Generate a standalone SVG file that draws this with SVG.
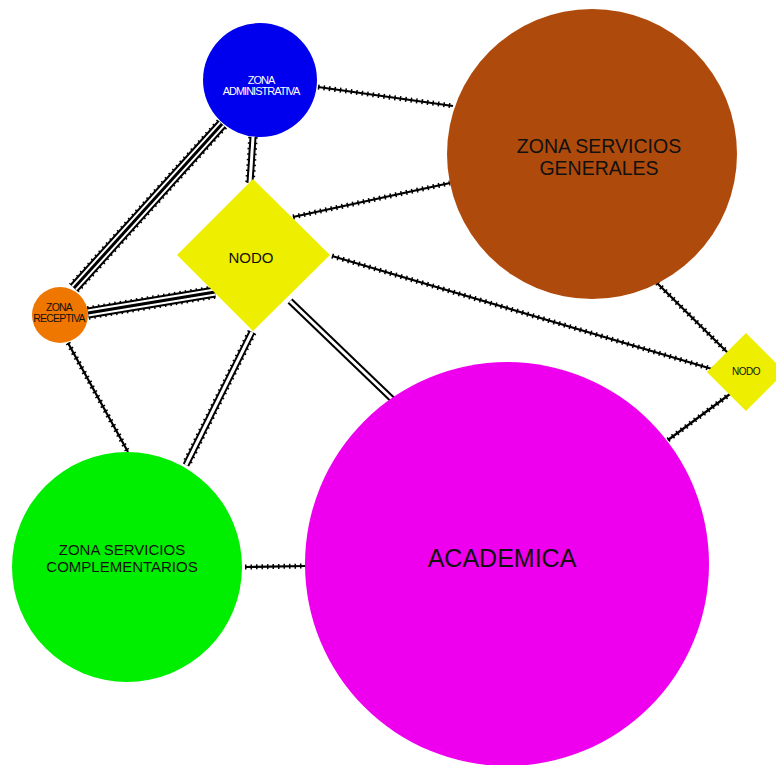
<svg xmlns="http://www.w3.org/2000/svg" width="776" height="765" viewBox="0 0 776 765">
<style>
.t{font-family:"Liberation Sans",Arial,sans-serif;text-anchor:middle;fill:#111}
.s1{stroke:#000;stroke-width:2.2;fill:none}
.s1b{stroke:#000;stroke-width:5;fill:none;stroke-dasharray:1.5 4}
.d1{stroke:#000;stroke-width:7;fill:none}
.d1b{stroke:#000;stroke-width:9.5;fill:none;stroke-dasharray:1.5 4}
.d2{stroke:#fff;stroke-width:3;fill:none}
.tr1{stroke:#000;stroke-width:11;fill:none}
.tr1b{stroke:#000;stroke-width:13.5;fill:none;stroke-dasharray:1.5 4}
.tr2{stroke:#fff;stroke-width:7;fill:none}
.tr3{stroke:#000;stroke-width:3;fill:none}
</style>
<rect width="776" height="765" fill="#fff"/>
<g id="connectors">
  <g>
    <path class="s1" d="M318,87 L453,106"/><path class="s1b" d="M318,87 L453,106"/>
    <path class="s1" d="M293,217 L450,183"/><path class="s1b" d="M293,217 L450,183"/>
    <path class="s1" d="M332,256 L712,369"/><path class="s1b" d="M332,256 L712,369"/>
    <path class="s1" d="M657,283 L728,353"/><path class="s1b" d="M657,283 L728,353"/>
    <path class="s1" d="M668,440 L730,394"/><path class="s1b" d="M668,440 L730,394"/>
    <path class="s1" d="M68,343 L128,452"/><path class="s1b" d="M68,343 L128,452"/>
    <path class="s1" d="M245,567 L306,566"/><path class="s1b" d="M245,567 L306,566"/>
  </g>
  <g>
    <path class="d1b" d="M253,137 L250,183"/><path class="d1" d="M253,137 L250,183"/><path class="d2" d="M253,137 L250,183"/>
    <path class="d1b" d="M252,332 L186,465"/><path class="d1" d="M252,332 L186,465"/><path class="d2" d="M252,332 L186,465"/>
    <path class="d1" d="M290,301 L393,400"/><path class="d2" d="M290,301 L393,400"/>
  </g>
  <g>
    <path class="tr1b" d="M222,124 L74,288"/><path class="tr1" d="M222,124 L74,288"/><path class="tr2" d="M222,124 L74,288"/><path class="tr3" d="M222,124 L74,288"/>
    <path class="tr1b" d="M88,313 L215,292"/><path class="tr1" d="M88,313 L215,292"/><path class="tr2" d="M88,313 L215,292"/><path class="tr3" d="M88,313 L215,292"/>
  </g>
</g>
<g id="zona-administrativa">
  <circle cx="260" cy="80" r="57" fill="#0000ee"/>
  <text class="t" x="261" y="84" font-size="11" style="fill:#fff" letter-spacing="-1">ZONA</text>
  <text class="t" x="261" y="95" font-size="11" style="fill:#fff" letter-spacing="-1">ADMINISTRATIVA</text>
</g>
<g id="zona-servicios-generales">
  <circle cx="592" cy="154" r="145" fill="#ae4a0c"/>
  <text class="t" x="599" y="153" font-size="19.5">ZONA SERVICIOS</text>
  <text class="t" x="599" y="175" font-size="19.5">GENERALES</text>
</g>
<g id="nodo">
  <polygon points="253,179 330,255 253,331 177,255" fill="#eeee00"/>
  <text class="t" x="251" y="263" font-size="15">NODO</text>
</g>
<g id="zona-receptiva">
  <circle cx="60" cy="315" r="28" fill="#ef7700"/>
  <text class="t" x="59" y="311" font-size="10.5" letter-spacing="-0.8">ZONA</text>
  <text class="t" x="59" y="322" font-size="10.5" letter-spacing="-0.8">RECEPTIVA</text>
</g>
<g id="nodo-2">
  <polygon points="746,333 785,372 746,411 707,372" fill="#eeee00"/>
  <text class="t" x="746" y="375" font-size="10" letter-spacing="-0.5">NODO</text>
</g>
<g id="zona-servicios-complementarios">
  <circle cx="127" cy="567" r="115" fill="#00ee00"/>
  <text class="t" x="122" y="555" font-size="15">ZONA SERVICIOS</text>
  <text class="t" x="122" y="572" font-size="15">COMPLEMENTARIOS</text>
</g>
<g id="academica">
  <circle cx="507" cy="564" r="202" fill="#ee00ee"/>
  <text class="t" x="502" y="567" font-size="25">ACADEMICA</text>
</g>
</svg>
